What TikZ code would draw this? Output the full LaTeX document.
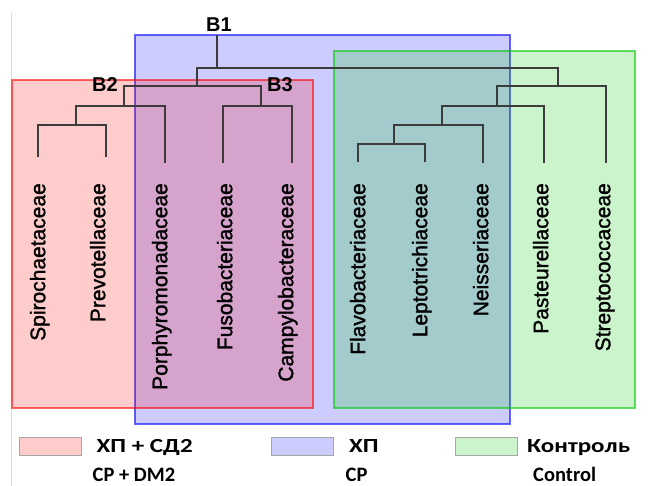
\documentclass[tikz,border=0pt]{standalone}
\usepackage{fontspec}
\setmainfont{Liberation Sans}
\newfontfamily\legfont{Carlito}
\newfontfamily\leaffont[FakeBold=1.4]{Liberation Sans}
\usepackage{tikz}
\usetikzlibrary{positioning}
\definecolor{grpgreen}{RGB}{0,200,0}
\definecolor{treegray}{RGB}{60,60,60}
\tikzset{
  group/.style = {line width=1.2pt, fill opacity=.2, draw opacity=.6},
  link/.style = {treegray, line width=1.3pt},
  leaf/.style = {rotate=90, anchor=north east, inner sep=0pt, text height=15pt, text depth=0pt, font=\leaffont\fontsize{21}{23}\selectfont},
  clade/.style = {inner sep=0pt, font=\bfseries\fontsize{20}{22}\selectfont},
  swatch/.style = {draw=gray!70, line width=1pt, minimum width=62pt, minimum height=18pt, inner sep=0pt},
  legtop/.style = {anchor=base west, inner sep=0pt, font=\legfont\bfseries\fontsize{20}{22}\selectfont},
  legbot/.style = {anchor=base west, inner sep=0pt, text depth=0pt, font=\legfont\bfseries\fontsize{20.5}{22}\selectfont}
}
\newcommand{\wide}[1]{\scalebox{1.25}[1]{#1}}
\begin{document}
\begin{tikzpicture}[x=1pt, y=-1pt]
\useasboundingbox (0,0) rectangle (651,486);
\draw[gray!30, line width=.8pt] (11.5,13) -- (11.5,486);
% groups
\draw[group, draw=blue, fill=blue] (135,35) rectangle (510,424);
\draw[group, draw=red, fill=red] (12,80) rectangle (313,408);
\draw[group, draw=grpgreen, fill=grpgreen] (334,51) rectangle (635,408);
% leaves
\coordinate (l1) at (38,157); \coordinate (l2) at (106,157); \coordinate (l3) at (165,163);
\coordinate (l4) at (223,163); \coordinate (l5) at (292,163); \coordinate (l6) at (358,162);
\coordinate (l7) at (425,162); \coordinate (l8) at (483,163); \coordinate (l9) at (544,163);
\coordinate (l10) at (606,163);
\node[leaf] (spiro) at (30,183) {Spirochaetaceae};
\node[leaf] (prevo) at (90,183) {Prevotellaceae};
\node[leaf] (porph) at (152,183) {Porphyromonadaceae};
\node[leaf] (fuso) at (217,183) {Fusobacteriaceae};
\node[leaf] (campy) at (278,183) {Campylobacteraceae};
\node[leaf] (flavo) at (350,183) {Flavobacteriaceae};
\node[leaf] (lepto) at (412,183) {Leptotrichiaceae};
\node[leaf] (neiss) at (473,183) {Neisseriaceae};
\node[leaf] (paste) at (533,183) {Pasteurellaceae};
\node[leaf] (strep) at (595,183) {Streptococcaceae};
% inner joins
\coordinate (n12) at (76,125); \coordinate (n123) at (124,106); \coordinate (n45) at (261,106);
\coordinate (bb2) at (197,86); \coordinate (n67) at (394,144); \coordinate (n678) at (442,125);
\coordinate (n6789) at (497,106); \coordinate (bb3) at (558,86); \coordinate (bb1) at (217,68);
\coordinate (top) at (217,35);
\draw[link] (l1) |- (n12) -| (l2);
\draw[link] (n12) |- (n123) -| (l3);
\draw[link] (l4) |- (n45) -| (l5);
\draw[link] (n123) |- (bb2) -| (n45);
\draw[link] (l6) |- (n67) -| (l7);
\draw[link] (n67) |- (n678) -| (l8);
\draw[link] (n678) |- (n6789) -| (l9);
\draw[link] (n6789) |- (bb3) -| (l10);
\draw[link] (bb2) |- (bb1) -| (bb3);
\draw[link] (bb1) -- (top);
\node[clade] (b1) at (219,25) {B1};
\node[clade] (b2) at (105,85) {B2};
\node[clade] (b3) at (280,85) {B3};
% legend
\node[swatch, fill=red!20] (sw1) at (50,446) {};
\node[swatch, fill=blue!20] (sw2) at (302.5,446) {};
\node[swatch, fill=grpgreen!20] (sw3) at (486.5,446) {};
\node[legtop] (t1) at (96.5,453) {\wide{ХП + СД2}};
\node[legtop] (t2) at (349,453) {\wide{ХП}};
\node[legtop] (t3) at (527,453) {\wide{Контроль}};
\node[legbot] (e1) at (92.5,481) {CP + DM2};
\node[legbot] (e2) at (345.5,481) {CP};
\node[legbot] (e3) at (533,481) {Control};
\end{tikzpicture}
\end{document}
